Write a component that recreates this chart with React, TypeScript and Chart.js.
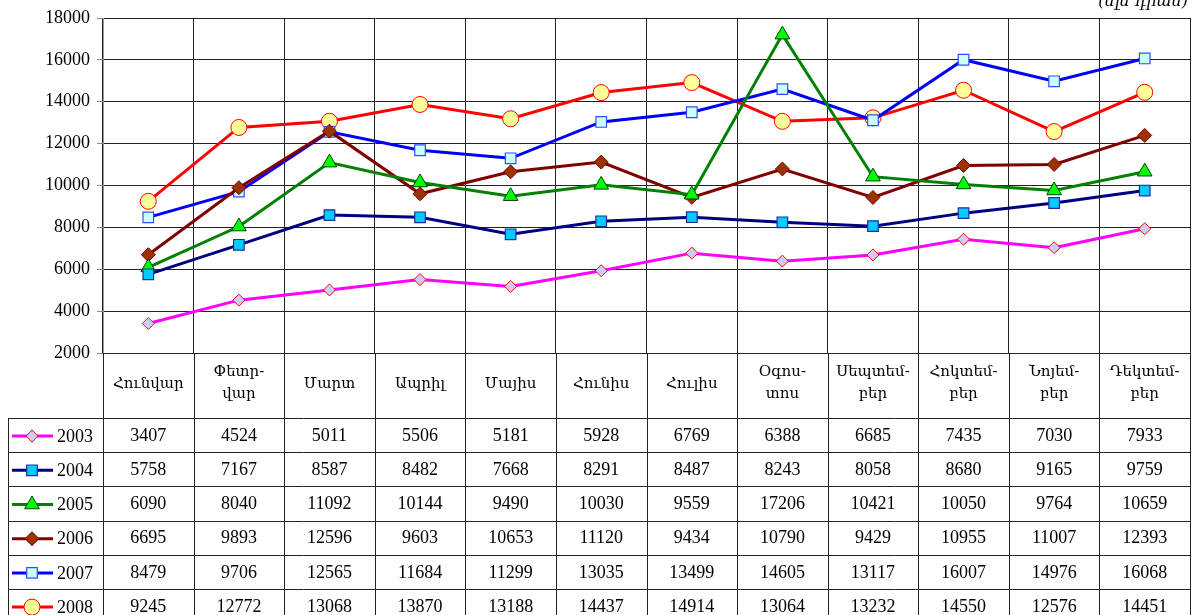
import React, { useEffect, useRef } from 'react';
import { Chart, registerables } from 'chart.js';

Chart.register(...registerables);

// ---- data ----
const monthLabels: string[][] = [
  ['Հունվար'],
  ['Փետր-', 'վար'],
  ['Մարտ'],
  ['Ապրիլ'],
  ['Մայիս'],
  ['Հունիս'],
  ['Հուլիս'],
  ['Օգոս-', 'տոս'],
  ['Սեպտեմ-', 'բեր'],
  ['Հոկտեմ-', 'բեր'],
  ['Նոյեմ-', 'բեր'],
  ['Դեկտեմ-', 'բեր'],
];
const years = ['2003', '2004', '2005', '2006', '2007', '2008'];
const v2003 = [3407, 4524, 5011, 5506, 5181, 5928, 6769, 6388, 6685, 7435, 7030, 7933];
const v2004 = [5758, 7167, 8587, 8482, 7668, 8291, 8487, 8243, 8058, 8680, 9165, 9759];
const v2005 = [6090, 8040, 11092, 10144, 9490, 10030, 9559, 17206, 10421, 10050, 9764, 10659];
const v2006 = [6695, 9893, 12596, 9603, 10653, 11120, 9434, 10790, 9429, 10955, 11007, 12393];
const v2007 = [8479, 9706, 12565, 11684, 11299, 13035, 13499, 14605, 13117, 16007, 14976, 16068];
const v2008 = [9245, 12772, 13068, 13870, 13188, 14437, 14914, 13064, 13232, 14550, 12576, 14451];
const seriesValues = [v2003, v2004, v2005, v2006, v2007, v2008];
const yMin = 2000;
const yMax = 18000;
const yStep = 2000;
const unitLabel = '(մլն դրամ)';

// ---- styles ----
const styles = [
  { line: '#FF00FF', fill: '#CCCCFF', border: '#FF0000', point: 'rectRot', r: 6, bw: 1 },
  { line: '#000080', fill: '#00CCFF', border: '#1F2FA0', point: 'rect', r: 7.5, bw: 1.2 },
  { line: '#008000', fill: '#00FF00', border: '#004000', point: 'triangle', r: 8.5, bw: 1 },
  { line: '#800000', fill: '#993300', border: '#800000', point: 'rectRot', r: 7, bw: 1 },
  { line: '#0000FF', fill: '#CCFFFF', border: '#2D4DFF', point: 'rect', r: 7.5, bw: 1.2 },
  { line: '#FF0000', fill: '#FFFF99', border: '#FF0000', point: 'circle', r: 8, bw: 1 },
];

const ARM_FONT = '"DejaVu Serif", "Liberation Serif", serif';
const NUM_FONT = '"Liberation Serif", "DejaVu Serif", serif';

function drawMarker(ctx: CanvasRenderingContext2D, s: any, x: number, y: number) {
  const r = s.r;
  ctx.beginPath();
  if (s.point === 'circle') {
    ctx.arc(x, y, r, 0, Math.PI * 2);
  } else if (s.point === 'rect') {
    const h = r * Math.SQRT1_2;
    ctx.rect(x - h, y - h, 2 * h, 2 * h);
  } else if (s.point === 'rectRot') {
    ctx.moveTo(x - r, y);
    ctx.lineTo(x, y - r);
    ctx.lineTo(x + r, y);
    ctx.lineTo(x, y + r);
    ctx.closePath();
  } else if (s.point === 'triangle') {
    let a = 0;
    ctx.moveTo(x + Math.sin(a) * r, y - Math.cos(a) * r);
    a += (2 * Math.PI) / 3;
    ctx.lineTo(x + Math.sin(a) * r, y - Math.cos(a) * r);
    a += (2 * Math.PI) / 3;
    ctx.lineTo(x + Math.sin(a) * r, y - Math.cos(a) * r);
    ctx.closePath();
  }
  ctx.fillStyle = s.fill;
  ctx.fill();
  ctx.lineWidth = s.bw;
  ctx.strokeStyle = s.border;
  ctx.stroke();
}

const tablePlugin = {
  id: 'dataTable',
  afterDraw(chart: any) {
    const ctx: CanvasRenderingContext2D = chart.ctx;
    const xs = chart.scales.x;
    const area = chart.chartArea;
    const n = monthLabels.length;
    const colW = (area.right - area.left) / n;
    const headerTop = area.bottom;
    const headerBottom = headerTop + 65;
    const rowH = 34.2;
    const tableLeft = 8;
    const bottom = chart.height + 20;
    ctx.save();
    ctx.strokeStyle = '#222';
    ctx.lineWidth = 1;
    for (let i = 0; i <= n; i++) {
      const x = Math.round(area.left + i * colW) + 0.5;
      ctx.beginPath();
      ctx.moveTo(x, headerTop);
      ctx.lineTo(x, bottom);
      ctx.stroke();
    }
    ctx.beginPath();
    ctx.moveTo(tableLeft + 0.5, headerBottom);
    ctx.lineTo(tableLeft + 0.5, bottom);
    ctx.stroke();
    for (let j = 0; j <= years.length; j++) {
      const y = Math.round(headerBottom + j * rowH) + 0.5;
      ctx.beginPath();
      ctx.moveTo(tableLeft, y);
      ctx.lineTo(area.right, y);
      ctx.stroke();
    }
    ctx.fillStyle = '#000';
    ctx.textAlign = 'center';
    ctx.textBaseline = 'middle';
    ctx.font = '15px ' + ARM_FONT;
    for (let i = 0; i < n; i++) {
      const cx = xs.getPixelForValue(i);
      const lines = monthLabels[i];
      if (lines.length === 1) {
        ctx.fillText(lines[0], cx, headerTop + 31);
      } else {
        ctx.fillText(lines[0], cx, headerTop + 19);
        ctx.fillText(lines[1], cx, headerTop + 41);
      }
    }
    for (let j = 0; j < years.length; j++) {
      const cy = headerBottom + j * rowH + rowH / 2 + 1;
      const s = styles[j];
      ctx.strokeStyle = s.line;
      ctx.lineWidth = 3;
      ctx.beginPath();
      ctx.moveTo(12, cy);
      ctx.lineTo(53, cy);
      ctx.stroke();
      drawMarker(ctx, s, 32, cy);
      ctx.fillStyle = '#000';
      ctx.textAlign = 'left';
      ctx.font = '18px ' + NUM_FONT;
      ctx.fillText(years[j], 57, cy + 1);
      ctx.textAlign = 'center';
      const vals = seriesValues[j];
      for (let i = 0; i < n; i++) {
        ctx.fillText(String(vals[i]), xs.getPixelForValue(i), cy);
      }
    }
    ctx.font = 'italic 16px ' + ARM_FONT;
    ctx.textAlign = 'right';
    ctx.textBaseline = 'alphabetic';
    ctx.fillText(unitLabel, 1188, 6);
    ctx.restore();
  },
};

export default function App() {
  const ref = useRef<HTMLCanvasElement | null>(null);
  useEffect(() => {
    document.body.style.margin = '0';
    const canvas = ref.current;
    if (!canvas) return;
    const chart = new Chart(canvas, {
      type: 'line',
      data: {
        labels: monthLabels.map((l) => l.join('')),
        datasets: years.map((y, j) => ({
          label: y,
          data: seriesValues[j],
          borderColor: styles[j].line,
          borderWidth: 3,
          backgroundColor: styles[j].fill,
          pointStyle: styles[j].point as any,
          pointRadius: styles[j].r,
          pointBackgroundColor: styles[j].fill,
          pointBorderColor: styles[j].border,
          pointBorderWidth: styles[j].bw,
          tension: 0,
          fill: false,
        })),
      },
      options: {
        responsive: false,
        animation: false,
        devicePixelRatio: 1,
        layout: { autoPadding: false, padding: { top: 18, bottom: 262, left: 0, right: 3 } },
        plugins: { legend: { display: false }, tooltip: { enabled: false } },
        scales: {
          x: {
            offset: true,
            ticks: { display: false },
            grid: { offset: true, color: '#222', lineWidth: 1, drawTicks: false },
            border: { display: false },
            afterFit: (s: any) => {
              s.height = 0;
            },
          },
          y: {
            min: yMin,
            max: yMax,
            ticks: {
              stepSize: yStep,
              color: '#000',
              font: { family: NUM_FONT, size: 18 },
              padding: 7,
              callback: (v: any) => String(v),
            },
            grid: { color: '#222', lineWidth: 1, tickLength: 6, tickColor: '#888' },
            border: { display: true, color: '#999', width: 1 },
            afterFit: (s: any) => {
              s.width = 103;
            },
          },
        },
      },
      plugins: [tablePlugin],
    });
    return () => chart.destroy();
  }, []);
  return <canvas ref={ref} width={1193} height={615} style={{ display: 'block' }} />;
}
